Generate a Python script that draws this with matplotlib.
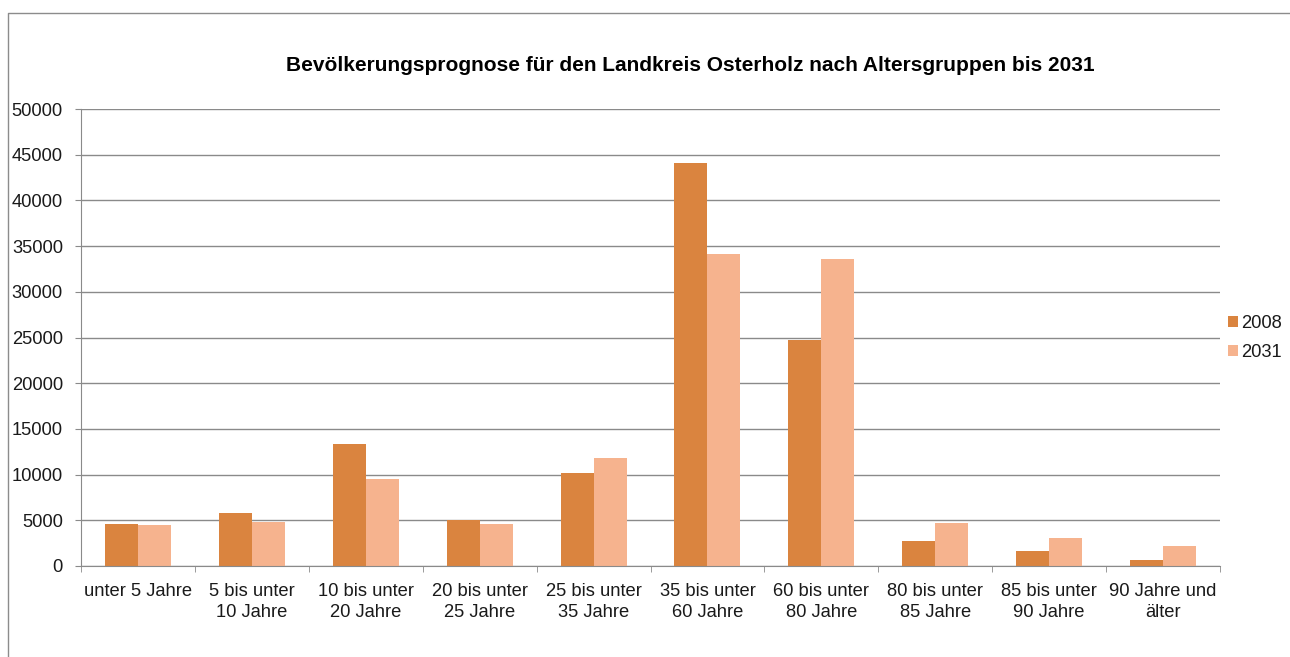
import matplotlib
matplotlib.use("Agg")
import matplotlib.pyplot as plt
import numpy as np
from matplotlib.lines import Line2D

categories = ["unter 5 Jahre", "5 bis unter\n10 Jahre", "10 bis unter\n20 Jahre",
              "20 bis unter\n25 Jahre", "25 bis unter\n35 Jahre", "35 bis unter\n60 Jahre",
              "60 bis unter\n80 Jahre", "80 bis unter\n85 Jahre", "85 bis unter\n90 Jahre",
              "90 Jahre und\nälter"]
values_2008 = [4600, 5770, 13330, 5080, 10190, 44080, 24730, 2700, 1680, 660]
values_2031 = [4490, 4860, 9570, 4640, 11830, 34110, 33600, 4710, 3070, 2190]
series_names = ["2008", "2031"]
yticks = [0, 5000, 10000, 15000, 20000, 25000, 30000, 35000, 40000, 45000, 50000]
title = "Bevölkerungsprognose für den Landkreis Osterholz nach Altersgruppen bis 2031"

plt.rcParams['font.family'] = ['Liberation Sans', 'DejaVu Sans']

W, H = 1290, 657
fig = plt.figure(figsize=(W / 100, H / 100), dpi=100)
fig.patch.set_facecolor("white")

# outer chart frame
fig.add_artist(Line2D([8 / W, 8 / W, 1.0], [0.0, 1 - 13 / H, 1 - 13 / H],
                      transform=fig.transFigure, color="#8c8c8c", lw=1.0))

ax = fig.add_axes([81 / W, 1 - 566 / H, (1220 - 81) / W, (566 - 109) / H])

x = np.arange(len(categories))
bw = 0.29
c2008 = "#DA843F"
c2031 = "#F6B38E"
b1 = ax.bar(x - bw / 2, values_2008, bw, color=c2008, label=series_names[0], zorder=3)
b2 = ax.bar(x + bw / 2, values_2031, bw, color=c2031, label=series_names[1], zorder=3)

ax.set_xlim(-0.5, len(categories) - 0.5)
ax.set_ylim(0, 50000)
ax.set_yticks(yticks)
ax.set_yticklabels([str(v) for v in yticks])
ax.yaxis.grid(True, color="#8a8a8a", lw=1.0, zorder=0)
ax.set_axisbelow(True)

for s in ["top", "right"]:
    ax.spines[s].set_visible(False)
ax.spines["left"].set_color("#8a8a8a")
ax.spines["bottom"].set_color("#8a8a8a")
ax.spines["left"].set_zorder(4)
ax.spines["bottom"].set_zorder(4)

ax.set_xticks(x)
ax.set_xticklabels(categories, fontsize=13.2, color="#1a1a1a", linespacing=1.3)
ax.set_xticks(np.arange(-0.5, len(categories)), minor=True)
ax.tick_params(axis="x", which="major", length=0, pad=12)
ax.tick_params(axis="x", which="minor", length=4, color="#8a8a8a", direction="out")
ax.tick_params(axis="y", length=4, color="#8a8a8a", labelsize=13.2, labelcolor="#1a1a1a", pad=9)

fig.text(690 / W, 1 - 71 / H, title, ha="center", va="baseline",
         fontsize=15.05, fontweight="bold", color="black")

leg = fig.legend(handles=[b1, b2], labels=series_names, loc="center left",
                 bbox_to_anchor=(1221 / W, 1 - 338 / H), frameon=False,
                 fontsize=13.2, handlelength=0.55, handleheight=0.55,
                 handletextpad=0.15, labelspacing=0.7, borderaxespad=0)
for t in leg.get_texts():
    t.set_color("#1a1a1a")

fig.savefig("out.png", dpi=100, facecolor="white")
